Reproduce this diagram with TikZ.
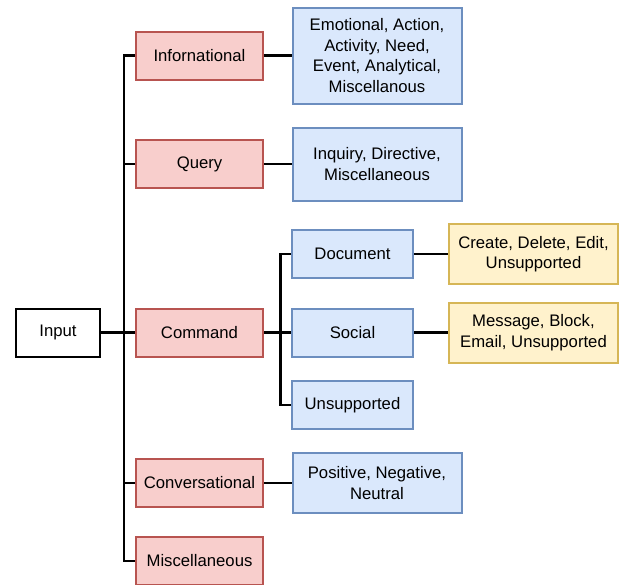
\documentclass[tikz,border=0pt]{standalone}
\usepackage{fontspec}
\setmainfont{Liberation Sans}
\usepackage{tikz}
\usetikzlibrary{shapes,arrows,positioning}

\definecolor{redfill}{HTML}{F8CECC}
\definecolor{redline}{HTML}{B85450}
\definecolor{bluefill}{HTML}{DAE8FC}
\definecolor{blueline}{HTML}{6C8EBF}
\definecolor{yellowfill}{HTML}{FFF2CC}
\definecolor{yellowline}{HTML}{D6B656}

\begin{document}
\begin{tikzpicture}[x=1pt,y=-1pt,
    font=\fontsize{16.7}{20.4}\selectfont,
    box/.style={draw,rectangle,line width=2pt,inner sep=0pt,align=center},
    intentbox/.style={box,fill=redfill,draw=redline,minimum width=127pt,minimum height=48pt},
    detailbox/.style={box,fill=bluefill,draw=blueline,minimum width=169pt},
    subbox/.style={box,fill=bluefill,draw=blueline,minimum width=121pt,minimum height=48pt},
    actbox/.style={box,fill=yellowfill,draw=yellowline,minimum width=169pt,minimum height=60pt},
    link/.style={line width=2.5pt}]
    \clip (0,0) rectangle (621,584);
    \useasboundingbox (0,0) rectangle (621,584);

    % Input
    \node[box,draw=black,fill=white,minimum width=84pt,minimum height=48pt] (input) at (58,332.5) {Input};

    % Intents
    \node[intentbox] (info) at (199.5,55.5) {Infornational};
    \node[intentbox] (query) at (199.5,164) {Query};
    \node[intentbox] (cmd) at (199.5,332.5) {Command};
    \node[intentbox] (conv) at (199.5,483) {Conversational};
    \node[intentbox] (misc) at (199.5,561) {Miscellaneous};

    % Details
    \node[detailbox,minimum height=96pt] (emo) at (377,55.5) {Emotional, Action,\\Activity, Need,\\Event, Analytical,\\Miscellanous};
    \node[detailbox,minimum height=73pt] (inq) at (377,164) {Inquiry, Directive,\\Miscellaneous};
    \node[detailbox,minimum height=60pt] (pos) at (377,483) {Positive, Negative,\\Neutral};

    % Command domains
    \node[subbox] (doc) at (352.5,254) {Document};
    \node[subbox] (soc) at (352.5,332.5) {Social};
    \node[subbox] (uns) at (352.5,405) {Unsupported};

    % Actions
    \node[actbox] (docact) at (533.5,254) {Create, Delete, Edit,\\Unsupported};
    \node[actbox] (socact) at (533.5,332.5) {Message, Block,\\Email, Unsupported};

    % Connectors
    \coordinate (split) at (124,332.5);
    \coordinate (csplit) at (280.5,332.5);
    \draw[link] (input.east) -- (split);
    \foreach \n in {info,query,cmd,conv,misc} {
        \draw[link] (split) |- (\n.west);
    }
    \draw[link] (info) -- (emo);
    \draw[link] (query) -- (inq);
    \draw[link] (conv) -- (pos);
    \draw[link] (cmd.east) -- (csplit);
    \foreach \n in {doc,soc,uns} {
        \draw[link] (csplit) |- (\n.west);
    }
    \draw[link] (doc) -- (docact);
    \draw[link] (soc) -- (socact);
\end{tikzpicture}
\end{document}
